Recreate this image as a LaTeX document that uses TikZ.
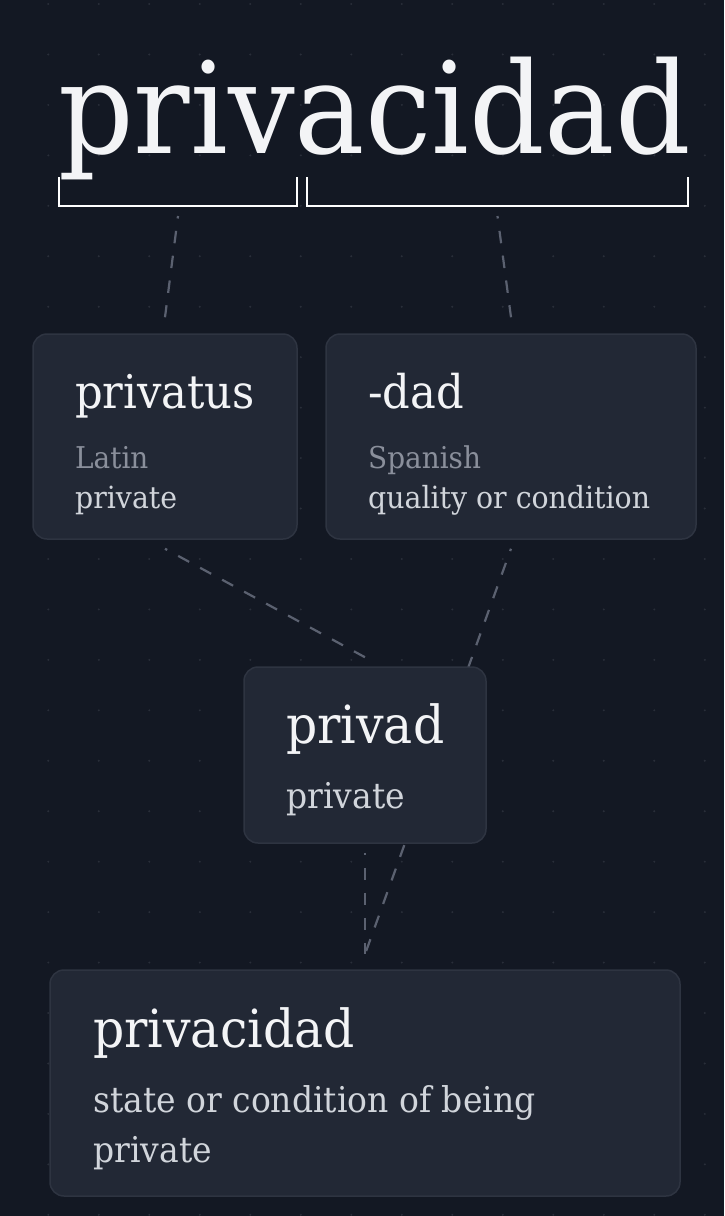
\documentclass[tikz,border=0pt]{standalone}
\usepackage{fontspec}
\setmainfont{DejaVu Serif}[FakeStretch=0.93]
\usetikzlibrary{positioning}
\definecolor{pagebg}{HTML}{131823}
\definecolor{cardbg}{HTML}{222835}
\definecolor{cardline}{HTML}{2E3441}
\definecolor{griddot}{HTML}{292E39}
\definecolor{linkgray}{HTML}{5B6170}
\definecolor{wordwhite}{HTML}{F3F4F6}
\definecolor{langgray}{HTML}{8A8F9B}
\definecolor{glossgray}{HTML}{D1D5DB}
\pgfdeclarelayer{grid}
\pgfdeclarelayer{links}
\pgfsetlayers{grid,links,main}
\tikzstyle{card} = [rectangle, 
rounded corners=14pt, 
draw=cardline, 
line width=1.5pt, 
fill=cardbg]
\tikzstyle{word} = [anchor=base west, inner sep=0pt, text=wordwhite]
\tikzstyle{lang} = [anchor=base west, inner sep=0pt, text=langgray, font=\fontsize{30}{36}\selectfont]
\tikzstyle{gloss} = [anchor=base west, inner sep=0pt, text=glossgray]
\tikzstyle{bracket} = [draw=white, line width=2.2pt]
\tikzstyle{link} = [draw=linkgray, line width=2.2pt, dash pattern=on 12.5pt off 12.5pt, dash phase=10pt]

\begin{document}
\begin{tikzpicture}[x=1pt, y=-1pt]
    \useasboundingbox (0,0) rectangle (724,1216);
    \begin{pgfonlayer}{grid}
      \fill[pagebg] (0,0) rectangle (724,1216);
      \foreach \i in {0,...,13}
        \foreach \j in {0,...,24}
          \fill[griddot] (48.3+50.5*\i, 4+50.45*\j) circle (1.1pt);
    \end{pgfonlayer}

    % headword and its two parts
    \node (title) [word, font=\fontsize{127}{127}\selectfont] at (58,153) {privacidad};
    \draw [bracket] (59,177) -- (59,206) -- (297,206) -- (297,177);
    \draw [bracket] (307,177) -- (307,206) -- (688,206) -- (688,177);
    \coordinate (brL) at (178,206);
    \coordinate (brR) at (497.5,206);

    % roots
    \node (privatus) [card, minimum width=264pt, minimum height=205pt] at (165,436.5) {};
    \node (privatusW) [word, font=\fontsize{46.5}{50}\selectfont] at (75,408) {privatus};
    \node (privatusL) [lang] at (75,468) {Latin};
    \node (privatusG) [gloss, font=\fontsize{30.5}{36}\selectfont] at (75,508) {private};

    \node (dad) [card, minimum width=370pt, minimum height=205pt] at (511,436.5) {};
    \node (dadW) [word, font=\fontsize{46.5}{50}\selectfont] at (368,408) {-dad};
    \node (dadL) [lang] at (368,468) {Spanish};
    \node (dadG) [gloss, font=\fontsize{30.5}{36}\selectfont] at (368,508) {quality or condition};

    % intermediate form
    \node (privad) [card, minimum width=242pt, minimum height=176pt] at (365,755) {};
    \node (privadW) [word, font=\fontsize{52.5}{56}\selectfont] at (286,743) {privad};
    \node (privadG) [gloss, font=\fontsize{35.5}{50}\selectfont] at (286,808) {private};

    % result
    \node (final) [card, minimum width=630pt, minimum height=226pt] at (365,1083) {};
    \node (finalW) [word, font=\fontsize{52.5}{56}\selectfont] at (93,1047) {privacidad};
    \node (finalG) [gloss, font=\fontsize{35.5}{50}\selectfont] at (93,1112) {state or condition of being};
    \node (finalH) [gloss, font=\fontsize{35.5}{50}\selectfont] at (93,1162) {private};

    \begin{pgfonlayer}{links}
      \draw [link] ([yshift=-10pt]brL) -- ([yshift=16pt]privatus.north);
      \draw [link] ([yshift=-10pt]brR) -- ([yshift=16pt]dad.north);
      \draw [link] ([yshift=-9pt]privatus.south) -- ([yshift=9pt]privad.north);
      \draw [link] ([yshift=-9pt]dad.south) -- ([yshift=15pt]final.north);
      \draw [link] ([yshift=-9pt]privad.south) -- ([yshift=15pt]final.north);
    \end{pgfonlayer}
\end{tikzpicture}
\end{document}
